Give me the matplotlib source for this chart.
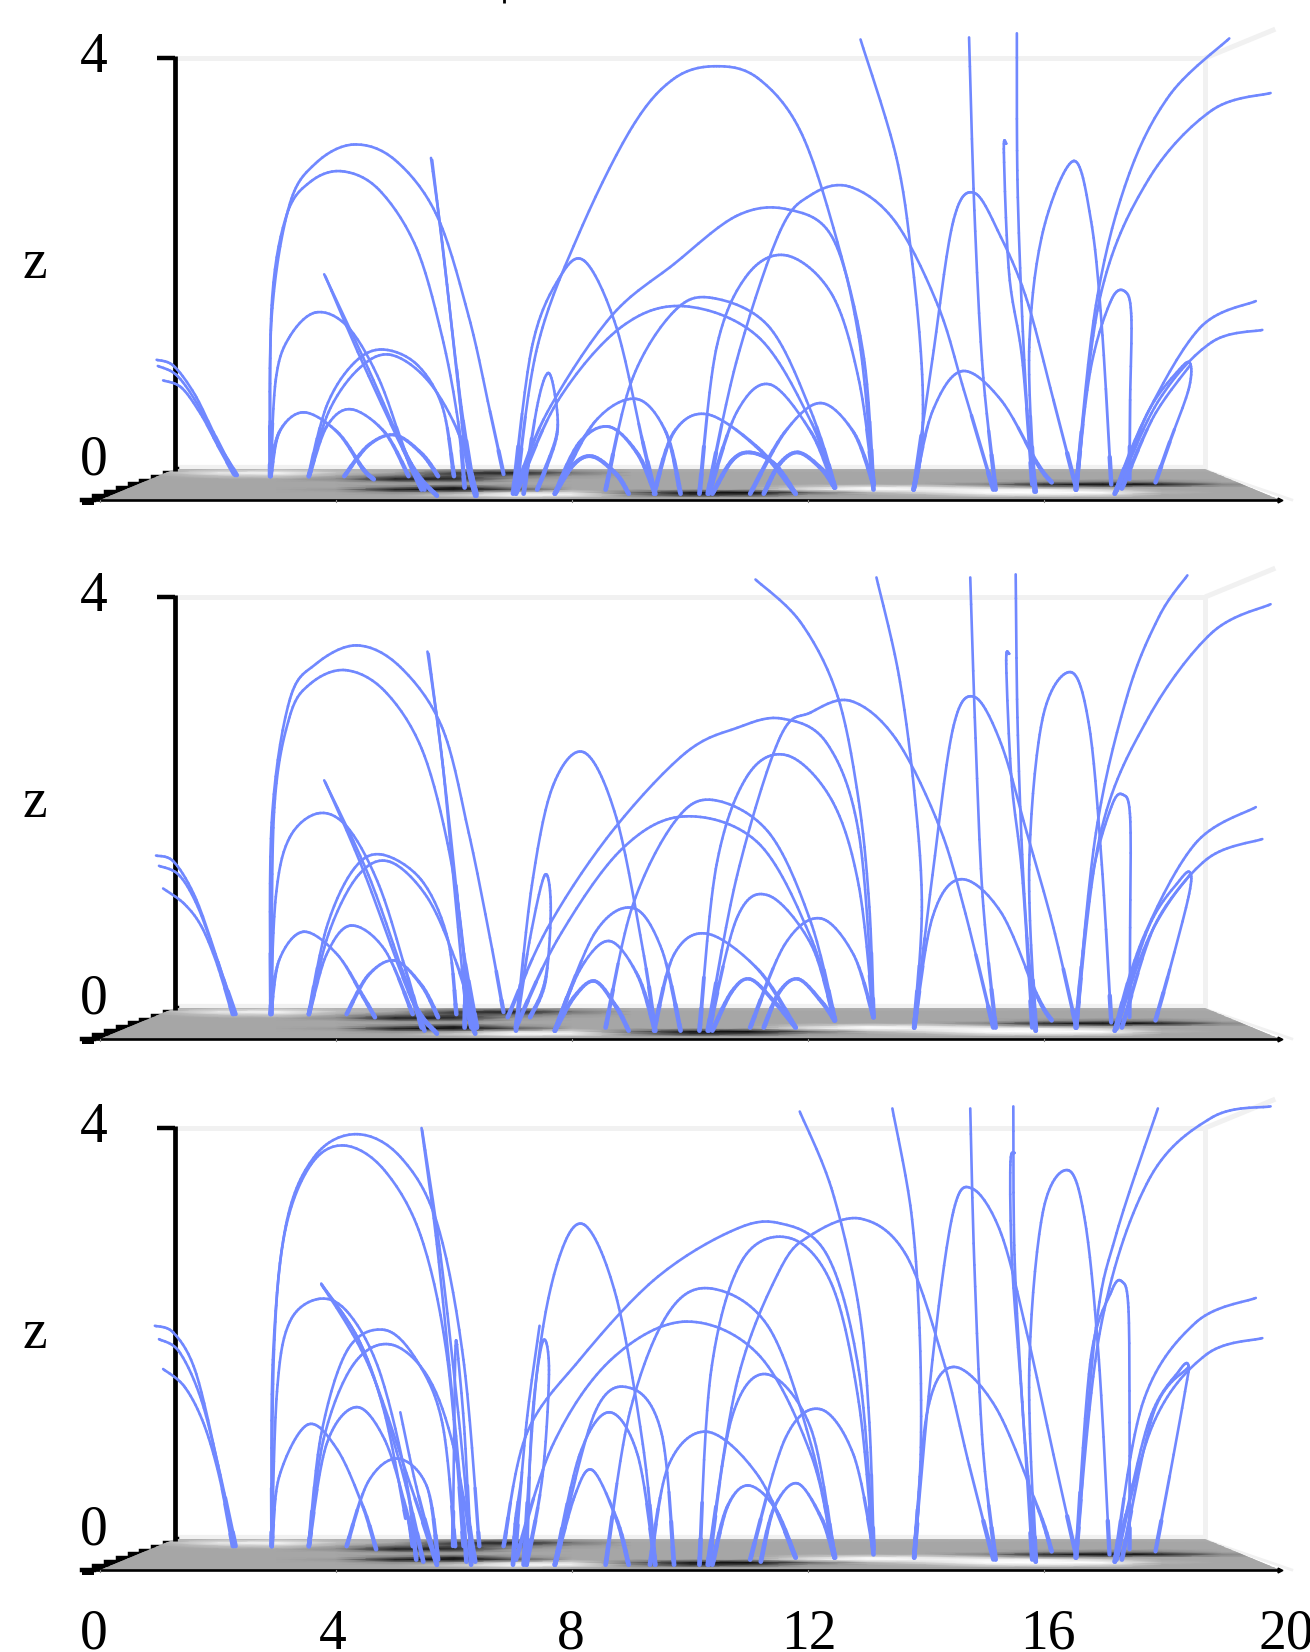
import numpy as np
import matplotlib
matplotlib.use("Agg")
import matplotlib.pyplot as plt
from matplotlib.path import Path
from matplotlib.patches import Polygon
from matplotlib.collections import LineCollection

plt.rcParams['font.family'] = ['Liberation Serif', 'DejaVu Serif']

LINE_COLOR = '#7088ff'
X_TICKS = [0, 4, 8, 12, 16, 20]
Z_TICKS = [0, 4]

# (x, z), one pair of lists per field line
PANEL1 = [
 ([.96,1.25,1.61,1.96,2.29],[1.07,1.01,.73,.32,-.05]),
 ([.98,1.30,1.64,1.96,2.32],[1.01,.92,.65,.29,-.05]),
 ([1.07,1.38,1.70,2.0,2.27],[.87,.80,.55,.24,-.04]),
 ([2.88,2.91,3.21,3.66,4.30,5.0,5.71,6.25,6.61,6.84],[-.06,1.49,2.57,2.98,3.16,3.01,2.47,1.49,.57,-.04]),
 ([2.89,2.91,3.16,3.57,4.11,4.73,5.36,5.80,6.07,6.18],[-.06,1.60,2.47,2.80,2.90,2.72,2.16,1.29,.47,-.17]),
 ([2.89,2.98,3.21,3.66,4.20,4.73,5.18,5.45],[-.06,.88,1.29,1.53,1.39,.88,.16,-.19]),
 ([2.89,3.04,3.45,4.02,4.46,4.64],[-.06,.37,.56,.37,.01,-.09]),
 ([3.54,3.84,4.29,4.77,5.36,5.80,6.0],[-.06,.62,1.03,1.17,1.03,.62,-.06]),
 ([3.54,3.88,4.38,4.91,5.54,6.07,6.38],[-.06,.57,.98,1.12,.88,.37,-.23]),
 ([3.54,3.84,4.25,4.82,5.23],[-.06,.42,.59,.37,-.06]),
 ([4.14,4.55,5.0,5.45,5.73],[-.06,.24,.34,.16,-.06]),
 ([3.80,4.55,5.18,5.50],[1.90,.98,.16,-.19]),
 ([3.82,4.46,5.27,5.71],[1.88,1.03,.06,-.25]),
 ([5.61,5.80,6.02,6.20,6.36],[3.03,2.21,1.08,.16,-.25]),
 ([5.63,5.84,6.11,6.34],[3.01,2.0,.68,-.19]),
 ([6.05,6.18,6.38],[.98,.27,-.25]),
 ([7.05,7.41,8.13,9.02,9.73,10.45,11.16,11.88,12.50,12.95,13.11],[-.23,1.19,2.31,3.33,3.80,3.92,3.80,3.28,2.21,1.08,-.19]),
 ([7.0,7.32,7.77,8.21,8.75,9.20,9.41],[-.23,1.19,1.85,2.03,1.39,.27,-.23]),
 ([7.05,7.59,8.66,9.73,10.80,11.66,12.41,12.86,13.11],[-.19,.57,1.49,2.0,2.47,2.53,2.26,1.29,-.14]),
 ([7.05,7.77,8.84,9.91,11.16,12.05,12.45],[-.23,.68,1.39,1.59,1.29,.47,-.17]),
 ([8.57,9.02,9.73,10.38,11.34,12.05,12.46],[-.19,.88,1.54,1.67,1.39,.57,-.17]),
 ([7.18,7.41,7.59,7.71,7.75,7.55,7.41],[-.23,.62,.94,.73,.37,.01,-.19]),
 ([7.71,8.39,9.09,9.59,9.84],[-.23,.47,.69,.37,-.23]),
 ([7.71,8.13,8.63,9.11,9.41],[-.23,.27,.42,.16,-.23]),
 ([7.71,8.04,8.36,8.75,8.96],[-.23,.06,.13,-.04,-.23]),
 ([9.39,9.73,10.30,11.16,11.79],[-.23,.37,.54,.21,-.23]),
 ([10.16,10.45,10.98,11.66,12.41,12.86,13.11],[-.23,1.19,1.90,2.08,1.70,.88,-.14]),
 ([10.32,10.80,11.36,12.05,12.45],[-.23,.57,.83,.37,-.17]),
 ([10.38,10.71,11.02,11.43,11.79],[-.23,.09,.17,.06,-.23]),
 ([11.02,11.61,12.21,12.77,13.11],[-.23,.37,.65,.37,-.14]),
 ([11.25,11.52,11.84,12.23,12.45],[-.23,.06,.17,.01,-.17]),
 ([10.30,10.80,11.52,12.05,12.71,13.48,14.20,14.64,15.14],[-.23,1.08,2.31,2.67,2.75,2.41,1.60,.78,-.19]),
 ([12.89,13.50,13.77,13.93,13.93,13.79],[4.18,3.03,2.0,.98,.27,-.19]),
 ([13.79,14.11,14.46,14.82,15.27,15.71,16.16,16.55],[-.19,1.08,2.41,2.69,2.26,1.65,.68,-.19]),
 ([13.79,14.11,14.61,15.27,15.89,16.13],[-.19,.57,.96,.68,.06,-.12]),
 ([14.73,14.82,14.96,15.18],[4.20,2.52,.98,-.19]),
 ([15.54,15.55,15.63,15.73,15.86],[4.24,2.82,1.49,.47,-.21]),
 ([15.36,15.32,15.41,15.63,15.80],[3.17,3.08,1.90,1.08,-.14]),
 ([15.84,15.75,15.98,16.50,16.80,16.98,17.14],[-.21,1.19,2.31,3.0,2.41,1.39,-.14]),
 ([16.54,16.88,17.41,18.13,19.14],[-.19,1.60,2.82,3.64,4.19]),
 ([16.54,16.96,17.77,18.84,19.84],[-.19,1.70,2.82,3.49,3.66]),
 ([16.54,16.79,17.14,17.38,17.48,17.46,17.45],[-.19,.98,1.65,1.73,1.49,.68,-.09]),
 ([17.20,17.77,18.66,19.59],[-.23,.57,1.39,1.64]),
 ([17.20,17.95,18.84,19.70],[-.23,.68,1.24,1.36]),
 ([17.23,17.77,18.30,18.48,18.45,18.13,17.89],[-.20,.57,.98,1.03,.78,.27,-.12]),
 ([17.32,17.86,18.48],[-.18,.52,1.02]),
]

PANEL2 = [
 ([.95,1.25,1.61,1.96,2.27],[1.49,1.43,1.09,.53,-.05]),
 ([1.0,1.34,1.66,1.98,2.30],[1.39,1.30,.99,.48,-.05]),
 ([1.07,1.43,1.73,2.02,2.25],[1.17,1.02,.79,.38,-.05]),
 ([2.89,2.91,3.21,3.66,4.36,5.09,5.80,6.25,6.61,6.84],[-.05,1.81,2.99,3.35,3.53,3.32,2.73,1.71,.69,-.03]),
 ([2.91,2.95,3.21,3.57,4.16,4.82,5.45,5.89,6.16,6.18],[-.05,1.91,2.83,3.16,3.29,3.09,2.53,1.61,.58,-.18]),
 ([2.89,2.98,3.21,3.70,4.20,4.73,5.18,5.45],[-.05,1.09,1.66,1.90,1.76,1.20,.38,-.18]),
 ([2.89,3.04,3.45,4.02,4.46,4.66],[-.05,.48,.75,.53,.12,-.08]),
 ([3.54,3.84,4.29,4.77,5.45,5.89,6.04],[-.05,.79,1.35,1.50,1.25,.69,-.05]),
 ([3.54,3.88,4.38,4.91,5.54,6.02,6.38],[-.05,.74,1.30,1.43,1.09,.48,-.18]),
 ([3.54,3.84,4.25,4.82,5.30],[-.05,.53,.81,.58,-.05]),
 ([4.18,4.55,5.0,5.45,5.73],[-.05,.33,.47,.23,-.08]),
 ([3.80,4.55,5.18,5.50],[2.22,1.30,.28,-.21]),
 ([3.82,4.46,5.27,5.71],[2.20,1.35,.12,-.24]),
 ([5.55,5.80,6.02,6.20,6.36],[3.47,2.42,1.09,.07,-.24]),
 ([5.57,5.84,6.11,6.29],[3.45,2.22,.79,-.18]),
 ([6.04,6.16,6.39],[1.20,.58,-.18]),
 ([7.05,7.32,7.68,8.21,8.75,9.20,9.41],[-.21,1.20,2.17,2.49,1.86,.58,-.21]),
 ([6.91,7.59,8.66,9.91,10.80,11.55,12.32,12.86,13.11],[-.08,.79,1.71,2.48,2.73,2.82,2.58,1.71,-.08]),
 ([7.05,7.77,8.84,9.91,11.16,12.05,12.45],[-.18,.69,1.55,1.87,1.61,.69,-.11]),
 ([8.57,9.02,9.73,10.38,11.34,12.05,12.46],[-.18,.99,1.81,2.03,1.71,.84,-.11]),
 ([7.05,7.29,7.54,7.64,7.55,7.29],[-.18,.69,1.30,.99,.28,-.08]),
 ([7.71,8.39,9.04,9.52,9.84],[-.21,.74,.98,.58,-.21]),
 ([7.71,8.13,8.63,9.11,9.41],[-.21,.38,.66,.33,-.21]),
 ([7.71,8.04,8.39,8.75,8.96],[-.21,.12,.27,.02,-.21]),
 ([9.39,9.73,10.30,11.16,11.79],[-.21,.53,.73,.38,-.18]),
 ([10.16,10.45,10.98,11.66,12.41,12.86,13.11],[-.21,1.40,2.27,2.46,2.02,1.20,-.08]),
 ([10.32,10.80,11.34,12.05,12.45],[-.21,.89,1.10,.63,-.11]),
 ([10.38,10.71,11.02,11.43,11.79],[-.21,.17,.29,.07,-.18]),
 ([11.02,11.61,12.21,12.77,13.11],[-.18,.63,.88,.53,-.08]),
 ([11.25,11.52,11.84,12.23,12.45],[-.18,.17,.29,.07,-.11]),
 ([10.30,10.80,11.52,12.05,12.73,13.48,14.20,14.64,15.14],[-.21,1.30,2.63,2.88,2.99,2.63,1.81,.99,-.18]),
 ([11.11,11.88,12.50,12.86,13.04,13.11],[4.17,3.75,3.04,2.02,.99,-.08]),
 ([13.16,13.54,13.80,13.93,13.80],[4.19,3.24,2.12,.99,-.18]),
 ([13.80,14.11,14.46,14.82,15.27,15.71,16.16,16.55],[-.18,1.30,2.73,3.03,2.58,1.71,.79,-.18]),
 ([13.80,14.11,14.59,15.27,15.89,16.13],[-.18,.89,1.26,.94,.12,-.11]),
 ([14.75,14.84,14.96,15.18],[4.19,2.63,1.09,-.18]),
 ([15.52,15.55,15.63,15.73,15.86],[4.22,2.83,1.50,.58,-.21]),
 ([15.41,15.36,15.45,15.63,15.80],[3.45,3.35,2.22,1.30,-.18]),
 ([15.86,15.75,15.98,16.46,16.77,16.98,17.14],[-.21,1.40,2.83,3.27,2.73,1.40,-.13]),
 ([16.54,16.88,17.41,17.95,18.43],[-.18,1.71,3.04,3.81,4.21]),
 ([16.54,16.96,17.77,18.84,19.84],[-.18,1.71,2.83,3.65,3.93]),
 ([16.54,16.79,17.14,17.34,17.46,17.46,17.45],[-.18,1.20,1.96,2.08,1.86,.79,-.08]),
 ([17.20,17.68,18.57,19.59],[-.21,.69,1.61,1.96]),
 ([17.20,17.86,18.75,19.70],[-.21,.79,1.45,1.65]),
 ([17.23,17.77,18.30,18.48,18.45,18.13,17.89],[-.19,.79,1.25,1.32,1.09,.38,-.11]),
 ([17.32,17.86,18.48],[-.18,.79,1.31]),
]

PANEL3 = [
 ([.93,1.25,1.61,1.96,2.27],[2.08,2.01,1.65,.83,-.06]),
 ([1.0,1.34,1.70,2.0,2.30],[1.95,1.83,1.39,.73,-.06]),
 ([1.07,1.43,1.75,2.02,2.25],[1.66,1.49,1.14,.62,-.06]),
 ([2.91,2.93,3.16,3.66,4.36,5.09,5.71,6.16,6.43],[-.06,1.75,3.08,3.74,3.94,3.72,3.08,1.75,-.06]),
 ([2.91,2.95,3.13,3.57,4.14,4.82,5.45,5.89,6.16],[-.06,1.85,2.98,3.64,3.83,3.59,2.93,1.75,-.06]),
 ([2.91,3.0,3.21,3.70,4.20,4.73,5.18,5.36],[-.06,1.44,2.11,2.34,2.21,1.65,.62,-.19]),
 ([2.91,3.04,3.52,4.02,4.46,4.68],[-.06,.62,1.12,.88,.32,-.09]),
 ([3.54,3.75,4.20,4.82,5.36,5.80,6.02],[-.06,1.03,1.85,2.04,1.75,1.14,-.06]),
 ([3.54,3.79,4.29,4.91,5.54,5.98,6.34],[-.06,.98,1.70,1.90,1.60,.93,-.19]),
 ([3.54,3.84,4.34,4.82,5.18,5.30],[-.06,.93,1.29,.98,.32,-.06]),
 ([4.18,4.55,5.05,5.54,5.73],[-.06,.57,.79,.52,-.19]),
 ([3.75,4.46,5.09,5.48],[2.49,1.85,.73,-.21]),
 ([3.77,4.55,5.27,5.71],[2.47,1.70,.52,-.24]),
 ([3.75,4.38,4.82,5.18],[2.48,1.95,1.24,.21]),
 ([5.45,5.71,5.98,6.16,6.21],[4.0,2.87,1.34,.21,-.21]),
 ([5.46,5.77,6.07,6.25,6.36],[3.98,2.77,1.24,.21,-.21]),
 ([6.05,6.18,6.29],[1.90,1.03,-.24]),
 ([6.05,6.02,5.98],[1.90,1.75,-.06]),
 ([5.09,5.36,5.71],[1.24,.52,-.24]),
 ([7.14,7.05,7.0],[.57,.21,-.24]),
 ([7.18,7.41,7.77,8.21,8.75,9.20,9.41],[-.24,1.65,2.72,3.06,2.36,.93,-.24]),
 ([6.84,7.23,8.13,9.38,10.63,11.48,12.32,12.86,13.11],[-.06,1.03,1.75,2.52,2.98,3.08,2.77,1.65,-.06]),
 ([7.05,7.68,8.66,9.91,11.16,12.05,12.45],[-.19,.93,1.75,2.12,1.80,.83,-.17]),
 ([8.57,8.98,9.64,10.38,11.34,12.05,12.46],[-.24,1.24,2.21,2.44,2.06,.93,-.17]),
 ([7.05,7.23,7.45],[-.06,1.14,2.08]),
 ([7.23,7.32,7.50,7.61,7.50,7.23],[-.24,1.14,1.92,1.65,.62,-.24]),
 ([7.71,8.39,9.02,9.52,9.73],[-.24,1.24,1.47,1.03,-.24]),
 ([7.71,8.13,8.63,9.11,9.41],[-.24,.83,1.24,.83,-.24]),
 ([7.71,8.04,8.34,8.75,8.96],[-.24,.42,.68,.21,-.24]),
 ([9.32,9.64,10.30,11.16,11.79],[-.24,.73,1.05,.62,-.17]),
 ([10.16,10.36,10.89,11.70,12.41,12.86,13.11],[-.24,1.65,2.72,2.93,2.47,1.34,-.14]),
 ([10.32,10.71,11.30,12.05,12.45],[-.24,1.19,1.61,1.08,-.17]),
 ([10.38,10.63,10.98,11.43,11.79],[-.24,.32,.53,.32,-.17]),
 ([11.02,11.61,12.21,12.77,13.11],[-.19,.98,1.27,.83,-.09]),
 ([11.20,11.43,11.82,12.23,12.45],[-.21,.32,.55,.21,-.17]),
 ([10.30,10.80,11.52,12.05,12.89,13.66,14.29,14.73,15.14],[-.24,1.54,2.62,2.96,3.12,2.77,1.75,.73,-.19]),
 ([11.86,12.41,12.86,13.04,13.11],[4.16,3.39,2.26,1.14,-.09]),
 ([13.43,13.75,13.89,13.91,13.80],[4.19,3.18,2.06,.83,-.17]),
 ([13.80,14.11,14.46,14.79,15.27,15.71,16.16,16.55],[-.17,1.75,3.18,3.41,2.98,2.01,.83,-.17]),
 ([13.80,14.02,14.46,15.18,15.89,16.13],[-.17,1.24,1.68,1.29,.32,-.11]),
 ([14.75,14.82,14.96,15.18],[4.19,2.67,.93,-.19]),
 ([15.48,15.50,15.63,15.73,15.86],[4.21,2.77,1.34,.62,-.21]),
 ([15.50,15.43,15.46,15.63,15.80],[3.76,3.64,2.67,1.34,-.19]),
 ([15.86,15.75,15.98,16.41,16.70,16.93,17.11],[-.21,1.65,3.18,3.59,3.08,1.75,-.14]),
 ([16.54,16.88,17.23,17.93],[-.17,2.06,2.98,4.19]),
 ([16.54,16.96,17.77,18.84,19.84],[-.17,2.06,3.49,4.10,4.21]),
 ([16.54,16.79,17.14,17.32,17.43,17.45,17.45],[-.17,1.75,2.41,2.51,2.26,1.14,-.09]),
 ([17.20,17.68,18.57,19.59],[-.21,1.34,2.11,2.35]),
 ([17.20,17.86,18.75,19.70],[-.21,1.14,1.80,1.96]),
 ([17.23,17.77,18.30,18.45,18.39,18.13,17.89],[-.19,1.14,1.65,1.69,1.44,.62,-.11]),
 ([17.32,17.86,18.45],[-.19,1.24,1.68]),
]

# floor map: grey level per depth row (z on screen) and per x = 0..20
FLOOR_X = list(range(21))
FLOOR_Z = [.01, -.03, -.06, -.09, -.12, -.14, -.17, -.19, -.22, -.245, -.27, -.30]
FLOOR_VALUES = [
 [.68,.68,.68,.68,.68,.68,.68,.68,.68,.68,.68,.68,.68,.68,.68,.68,.68,.68,.68,.68,.68],
 [.65,.68,.92,.98,.75,.65,.25,.10,.45,.65,.65,.65,.65,.65,.65,.65,.65,.65,.65,.65,.65],
 [.65,.65,.75,.80,.65,.45,.30,.45,.60,.65,.65,.65,.65,.65,.65,.65,.65,.65,.65,.65,.65],
 [.65,.65,.65,.65,.55,.10,.15,.60,.65,.65,.65,.65,.65,.65,.65,.65,.65,.65,.65,.65,.65],
 [.65,.65,.65,.65,.65,.55,.55,.65,.65,.65,.65,.65,.65,.65,.65,.65,.55,.45,.50,.65,.65],
 [.65,.65,.65,.65,.65,.65,.65,.65,.65,.65,.65,.65,.65,.65,.65,.50,.15,.02,.10,.50,.65],
 [.65,.65,.65,.65,.65,.45,.15,.55,.65,.65,.65,.65,.80,.95,.90,.80,.60,.60,.65,.65,.65],
 [.65,.65,.65,.65,.60,.10,.05,.30,.65,.65,.65,.65,.90,1.0,.95,.95,.95,.80,.65,.65,.65],
 [.65,.65,.65,.65,.65,.55,.60,.85,.85,.45,.10,.05,.40,.70,.85,1.0,1.0,1.0,.70,.65,.65],
 [.65,.65,.65,.65,.65,.65,.80,1.0,.95,.55,.20,.30,.60,.65,.70,.85,.90,.85,.65,.65,.65],
 [.65,.65,.65,.65,.65,.65,.65,.75,.70,.65,.65,.65,.65,.65,.65,.65,.65,.65,.65,.65,.65],
 [.65,.65,.65,.65,.65,.65,.65,.65,.65,.65,.65,.65,.65,.65,.65,.65,.65,.65,.65,.65,.65],
]

# box geometry in data units
FRONT_Z = -0.29
BACK_LEFT = 1.27
BACK_RIGHT = 18.73
FIG_W, FIG_H = 1310, 1652
PX_PER_X = 59.0
PX_PER_Z = 103.0
X0_PX = 100.0
# (panel curves, z=0 pixel row, axes top pixel, axes bottom pixel)
PANELS = [(PANEL1, 470, 0, 520), (PANEL2, 1009, 525, 1060), (PANEL3, 1540, 1060, 1652)]


def smooth_path(xs, zs, k):
    pts = np.column_stack([xs, zs]) * k
    verts = [pts[0]]
    codes = [Path.MOVETO]
    n = len(pts)
    for i in range(n - 1):
        p0 = pts[max(i - 1, 0)]
        p1 = pts[i]
        p2 = pts[i + 1]
        p3 = pts[min(i + 2, n - 1)]
        verts += [p1 + (p2 - p0) / 6, p2 - (p3 - p1) / 6, p2]
        codes += [Path.CURVE4, Path.CURVE4, Path.CURVE4]
    return Path(np.array(verts), codes)


def draw_curve(ax, xs, zs):
    k = 200.0  # flatten the Bezier path at a fine scale
    flat = smooth_path(xs, zs, k).to_polygons(closed_only=False)[0] / k
    segs = np.stack([flat[:-1], flat[1:]], axis=1)
    zm = segs[:, :, 1].mean(axis=1)
    lw = 1.9 + 1.5 * np.clip(1 - (zm + .1) / .6, 0, 1)
    lc = LineCollection(segs, colors=LINE_COLOR, linewidths=lw, capstyle='round', zorder=5)
    ax.add_collection(lc)


fig = plt.figure(figsize=(FIG_W / 100, FIG_H / 100), dpi=100, facecolor='white')

for idx, (curves, z0_px, top_px, bot_px) in enumerate(PANELS):
    ax = fig.add_axes([0, 1 - bot_px / FIG_H, 1, (bot_px - top_px) / FIG_H])
    ax.set_xlim(-X0_PX / PX_PER_X, (FIG_W - X0_PX) / PX_PER_X)
    ax.set_ylim((z0_px - bot_px) / PX_PER_Z, (z0_px - top_px) / PX_PER_Z)
    ax.axis('off')
    ax.patch.set_alpha(0)

    # back walls
    wall = '#f1f1f1'
    ax.plot([BACK_LEFT, BACK_RIGHT], [4, 4], color=wall, lw=3.6, zorder=1, solid_capstyle='butt')
    ax.plot([BACK_RIGHT, BACK_RIGHT], [0, 4], color=wall, lw=3.6, zorder=1, solid_capstyle='butt')
    ax.plot([BACK_RIGHT, 19.92], [4, 4.28], color=wall, lw=3.6, zorder=1, solid_capstyle='butt')
    ax.plot([BACK_LEFT, BACK_RIGHT], [.03, .03], color=wall, lw=3.0, zorder=1, solid_capstyle='butt')
    ax.plot([BACK_RIGHT, 20.2], [0, FRONT_Z], color=wall, lw=2.0, zorder=1)

    # staircase axis, under the floor
    sx = np.linspace(-.3, BACK_LEFT + .03, 9)
    sz = np.linspace(FRONT_Z, .01, 9)
    ax.fill_between(sx, sz - .05, sz, step='post', color='black', lw=0, zorder=2)
    ax.step(sx, sz, where='post', color='black', lw=3.2, zorder=2, solid_joinstyle='miter')

    # floor
    mesh = ax.pcolormesh(FLOOR_X, FLOOR_Z, FLOOR_VALUES, shading='gouraud', cmap='gray', vmin=0, vmax=1, zorder=3)
    floor_poly = Polygon([(0, FRONT_Z), (20, FRONT_Z), (BACK_RIGHT, 0.005), (BACK_LEFT, 0.005)],
                         closed=True, transform=ax.transData, facecolor='none', edgecolor='none')
    ax.add_patch(floor_poly)
    mesh.set_clip_path(floor_poly)

    # axes lines and ticks
    ax.plot([BACK_LEFT, BACK_LEFT], [-.01, 4.015], color='black', lw=3.4, zorder=4, solid_capstyle='butt')
    ax.plot([.97, BACK_LEFT], [4, 4], color='black', lw=3.2, zorder=4, solid_capstyle='butt')
    ax.plot([-.3, 20], [FRONT_Z, FRONT_Z], color='black', lw=1.9, zorder=4, solid_capstyle='butt')
    ax.plot([20], [FRONT_Z], marker='>', color='black', ms=3.5, zorder=4)
    for t in X_TICKS[:-1]:
        ax.plot([t, t], [FRONT_Z, FRONT_Z - .025], color='#888888', lw=.8, zorder=4)

    for xs, zs in curves:
        draw_curve(ax, xs, zs)

    # labels
    for t in Z_TICKS:
        ax.text(-.1, t + (.09 if t == 0 else .0), str(t), fontsize=40, ha='center', va='center', color='black')
    ax.text(-1.1, 2.0, 'z', fontsize=40, ha='center', va='center', color='black')
    if idx == 2:
        for t in X_TICKS:
            ax.text(t - .1 + .01 * t, FRONT_Z - .63, str(t), fontsize=40, ha='center', va='center', color='black')
    if idx == 0:
        ax.plot([6.85, 6.85], [4.53, 4.57], color='black', lw=2.0, zorder=4, solid_capstyle='butt')

fig.savefig('out.png', dpi=100)
